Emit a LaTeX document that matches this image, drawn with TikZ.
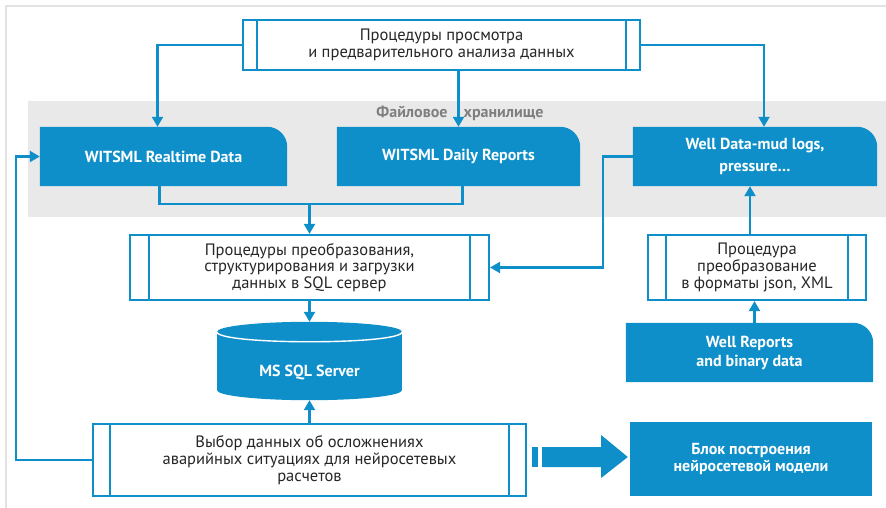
\documentclass[tikz,border=0pt]{standalone}
\usepackage{fontspec}
\setmainfont{PT Sans}
\usetikzlibrary{arrows.meta,calc,backgrounds}
\definecolor{flowblue}{HTML}{0E8FC9}
\definecolor{bandgray}{HTML}{E9E9E9}
\definecolor{framegray}{HTML}{E2E2E2}
\definecolor{labelgray}{HTML}{7F7F7F}
\definecolor{ink}{HTML}{262626}

% tab-shaped data block: rounded top-right corner only
\newcommand\tabfill[1]{%
  \fill[flowblue] (#1.south west) -- (#1.north west)
    -- ($(#1.north east)+(-20pt,0)$)
    .. controls +(11pt,0) and +(0,11pt) .. ($(#1.north east)+(0,-20pt)$)
    -- (#1.south east) -- cycle;}
% double side bars of a process box
\newcommand\sidebars[2]{%
  \draw[procline] ([xshift=#2]#1.north west) -- ([xshift=#2]#1.south west);
  \draw[procline] ([xshift=-#2]#1.north east) -- ([xshift=-#2]#1.south east);}

\begin{document}
\begin{tikzpicture}[x=1pt,y=-1pt,
  every node/.style={font=\fontsize{16.5}{16.7}\selectfont, inner sep=0pt},
  procline/.style={draw=flowblue, line width=2.2pt},
  procbox/.style={procline, fill=white, align=center, text=ink},
  datablk/.style={align=center, text=white, font=\fontsize{16}{20}\selectfont\bfseries},
  conn/.style={draw=flowblue, line width=2.2pt},
  arr/.style={conn, -{Triangle[width=11pt,length=10pt]}}]
\useasboundingbox (0,0) rectangle (886,508);

% process boxes
\node[procbox, minimum width=397pt, minimum height=50pt] (view) at (441.5,45)
  {Процедуры просмотра\\и предварительного анализа данных};
\node[procbox, minimum width=359pt, minimum height=65pt] (conv) at (309.5,267.5)
  {Процедуры преобразования,\\структурирования и загрузки\\данных в SQL сервер};
\node[procbox, minimum width=218pt, minimum height=65pt] (fmt) at (757,267.5)
  {Процедура\\преобразование\\в форматы json, XML};
\node[procbox, minimum width=433pt, minimum height=72pt] (pick) at (309.5,460)
  {Выбор данных об осложнениях\\аварийных ситуациях для нейросетевых\\расчетов};
\sidebars{view}{15pt}
\sidebars{conv}{20pt}
\sidebars{fmt}{19pt}
\sidebars{pick}{18pt}

% data blocks
\node[datablk, minimum width=247pt, minimum height=59pt] (rt) at (163.5,156.5) {WITSML Realtime Data};
\node[datablk, minimum width=243pt, minimum height=59pt] (daily) at (458.5,156.5) {WITSML Daily Reports};
\node[datablk, minimum width=244pt, minimum height=59pt, font=\fontsize{16}{22.5}\selectfont\bfseries]
  (well) at (755,156.5) {Well Data-mud logs,\\pressure…};
\node[datablk, minimum width=247pt, minimum height=59pt, font=\fontsize{16}{19}\selectfont\bfseries]
  (wrep) at (749.5,352.5) {Well Reports\\and binary data};
\node[datablk, fill=flowblue, minimum width=242pt, minimum height=74pt, font=\fontsize{16}{17.5}\selectfont\bfseries]
  (nn) at (751,459) {Блок построения\\нейросетевой модели};
\node[datablk, minimum width=185pt, minimum height=78pt] (sql) at (309.5,361)
  {\raisebox{-15pt}[0pt][0pt]{MS SQL Server}};

\node[text=labelgray, font=\fontsize{16}{18}\selectfont\bfseries] (store) at (460,113)
  {Файловое\hspace{16pt}хранилище};

\begin{scope}[on background layer]
  % page frame
  \draw[framegray, line width=1.5pt] (6,508) -- (6,6) -- (886,6);
  % file storage band
  \fill[bandgray] (28,101) rectangle (886,217);
  \tabfill{rt}
  \tabfill{daily}
  \tabfill{well}
  \tabfill{wrep}
  % database cylinder
  \fill[flowblue] ($(sql.south)+(0,10pt)$) ellipse [x radius=92.5pt, y radius=10pt];
  \fill[flowblue] ($(sql.north west)+(0,-10pt)$) rectangle ($(sql.south east)+(0,10pt)$);
  \fill[flowblue] ($(sql.north)+(0,-10pt)$) ellipse [x radius=92.5pt, y radius=10pt];
\end{scope}
% front rim of the cylinder lid
\draw[white, line width=1.4pt] ($(sql.north west)+(0,-10pt)$)
  .. controls ($(sql.north west)+(0,-23.3pt)$) and ($(sql.north east)+(0,-23.3pt)$)
  .. ($(sql.north east)+(0,-10pt)$);

% connectors
\draw[arr] (view.west) -| ([xshift=-6pt]rt.north);
\draw[arr] (view.south -| daily.north) -- (daily.north);
\draw[arr] (view.east) -| ([xshift=9pt]well.north);
\coordinate (merge) at ($(conv.north)+(0,30pt)$);
\draw[conn] ([xshift=-4pt]rt.south) |- ([xshift=4pt]daily.south |- merge) -- ([xshift=4pt]daily.south);
\draw[arr] (merge) -- (conv.north);
\draw[arr] (well.west) -- ++(-30pt,0) |- (conv.east);
\draw[arr] ([xshift=-7pt]fmt.north) -- ([xshift=-7pt]fmt.north |- well.south);
\draw[arr] ([xshift=5pt]wrep.north) -- ([xshift=5pt]wrep.north |- fmt.south);
\draw[arr] (conv.south) -- (sql.north);
\draw[arr] (pick.north) -- (sql.south);
\draw[arr] (pick.west) -- ++(-76pt,0) |- (rt.west);

% wide arrow into the model block
\fill[flowblue] ($(pick.east)+(5pt,-7pt)$) rectangle ++(6pt,20pt);
\fill[flowblue] ($(pick.east)+(15pt,-7pt)$) -- ++(59pt,0) -- ++(0,-11pt)
  -- ($(nn.west)+(-2pt,2pt)$) -- ($(pick.east)+(74pt,25pt)$) -- ++(0,-12pt)
  -- ($(pick.east)+(15pt,13pt)$) -- cycle;
\end{tikzpicture}
\end{document}
